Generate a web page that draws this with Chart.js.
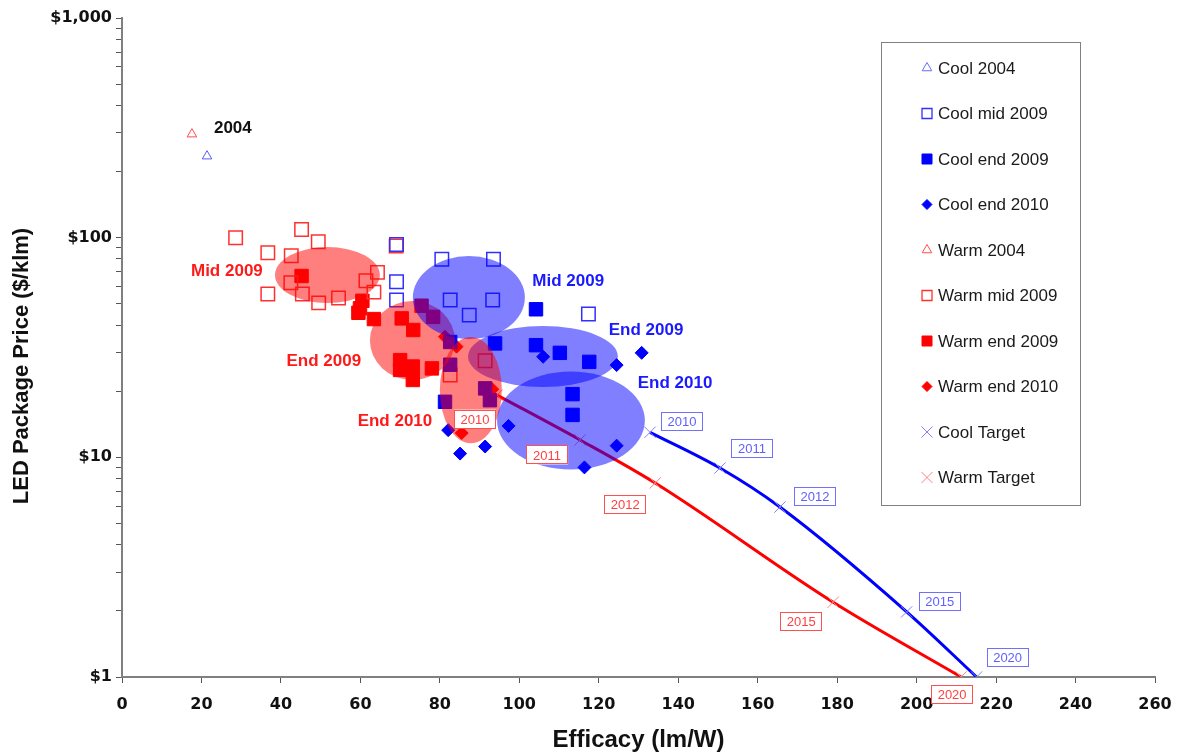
<!DOCTYPE html>
<html>
<head>
<meta charset="utf-8">
<script src="https://cdn.jsdelivr.net/npm/chart.js@4.4.1/dist/chart.umd.min.js"></script>
<style>
  body { margin: 0; background: #fff; }
  #wrap { width: 1177px; height: 755px; }
</style>
</head>
<body>
<div id="wrap"><canvas id="myChart" width="1177" height="755"></canvas></div>
<script>
// efficacy (lm/W), price ($/klm) pairs
var cool2004 = [[21.4, 235]];
var warm2004 = [[17.6, 296]];
var coolMid2009 = [[80.5, 79.7], [93.5, 79.7], [82.6, 52], [93.3, 52], [87.4, 44.4], [117.4, 44.9],
    [69.1, 63], [69.1, 52], [69.1, 93]];
var coolEnd2009 = [[104.2, 47.2], [104.2, 32.4], [110.2, 29.9], [117.6, 27.2], [93.9, 33.0], [82.6, 26.4],
    [91.4, 20.6], [81.3, 17.9], [92.6, 18.2], [113.4, 19.4], [113.4, 15.6], [82.6, 33.5]];
var coolEnd2010 = [[106, 28.7], [124.5, 26.3], [130.8, 29.9], [97.3, 13.9], [82.1, 13.3], [91.4, 11.2],
    [85.1, 10.4], [116.4, 9.0], [124.5, 11.3]];
var warmMid2009 = [[28.6, 100], [45.2, 109], [49.4, 95.8], [36.7, 85.4], [42.6, 82.7], [42.5, 62.3],
    [45.4, 55.4], [36.7, 55.4], [49.5, 50.5], [54.5, 53.1], [61.4, 63.7], [64.3, 69.5], [63.4, 56.5],
    [69.0, 91.6], [82.6, 23.7], [91.4, 27.5]];
var warmEnd2009 = [[45.2, 66.9], [60.5, 51.6], [59.5, 45.5], [63.4, 42.6], [70.4, 42.9], [73.3, 38],
    [59.9, 47.7], [75.4, 49], [78.3, 43.6], [70, 27.7], [73.2, 25.9], [73.2, 22.5], [78, 25.4], [70, 25.0]];
var warmEnd2010 = [[93.2, 20.4], [81.3, 35.4], [84.2, 31.9], [85.5, 12.9]];

var targetYears = ['2010', '2011', '2012', '2015', '2020'];
var coolTargetEff = [132.9, 150.5, 165.6, 197.5, 215.1];
var coolTargetPrice = [13.0, 8.94, 5.94, 1.98, 1.0];
var warmTargetEff = [94.4, 115.3, 134.2, 179, 211.2];
var warmTargetPrice = [19.2, 12.0, 7.64, 2.19, 1.0];

// clusters: efficacy range and price range of each shaded ellipse
var clusterNames = ['Warm mid 2009', 'Warm end 2009', 'Cool mid 2009', 'Cool end 2009', 'Warm end 2010', 'Cool end 2010'];
var clusterEff = [[38.5, 64.9], [62.4, 83.8], [73.2, 101.4], [87.1, 124.8], [80, 95.6], [94.4, 131.6]];
var clusterPrice = [[50.4, 90.6], [22.5, 51.5], [34.5, 82.5], [20.9, 39.6], [11.6, 35.3], [8.8, 24.6]];
var clusterWarm = [true, true, false, false, true, false];

// text notes in the plot
var noteText = ['2004', 'Mid 2009', 'End 2009', 'End 2010', 'Mid 2009', 'End 2009', 'End 2010'];
var noteEff = [27.9, 26.4, 50.8, 68.7, 112.3, 131.9, 139.2];
var notePrice = [315, 70.5, 27.4, 14.6, 63.5, 38, 21.8];
var noteKind = ['black', 'red', 'red', 'red', 'blue', 'blue', 'blue'];

var yTicks = [1, 2, 3, 4, 5, 6, 7, 8, 9, 10, 20, 30, 40, 50, 60, 70, 80, 90, 100, 200, 300, 400, 500, 600, 700, 800, 900, 1000];

function pts(list) {
    return list.map(function (p) { return { x: p[0], y: p[1] }; });
}
function zipPts(xs, ys) {
    return xs.map(function (v, i) { return { x: v, y: ys[i] }; });
}

var FONT = "'Liberation Sans', Arial, sans-serif";
var TICKFONT = "'DejaVu Sans', 'Liberation Sans', sans-serif";
var BLUE = '#0000ff', RED = '#ff0000';

// label box offsets from the target marker (px)
var coolLabelOff = [[32, -11], [32, -20], [35, -11], [33, -10], [31, -20]];
var warmLabelOff = [[-22, 24], [-33, 15], [-30, 21], [-32, 19], [-9, 17]];

var ellipsePlugin = {
    id: 'ellipses',
    afterDatasetsDraw: function (chart) {
        var ctx = chart.ctx, xs = chart.scales.x, ys = chart.scales.y, area = chart.chartArea;
        ctx.save();
        ctx.beginPath();
        ctx.rect(area.left, area.top, area.right - area.left, area.bottom - area.top);
        ctx.clip();
        clusterNames.forEach(function (name, i) {
            var x1 = xs.getPixelForValue(clusterEff[i][0]);
            var x2 = xs.getPixelForValue(clusterEff[i][1]);
            var y1 = ys.getPixelForValue(clusterPrice[i][1]);
            var y2 = ys.getPixelForValue(clusterPrice[i][0]);
            ctx.beginPath();
            ctx.ellipse((x1 + x2) / 2, (y1 + y2) / 2, (x2 - x1) / 2, (y2 - y1) / 2, 0, 0, Math.PI * 2);
            ctx.fillStyle = clusterWarm[i] ? 'rgba(255,0,0,0.5)' : 'rgba(0,0,255,0.5)';
            ctx.fill();
        });
        ctx.restore();
    }
};

function drawMarker(ctx, style, x, y, r, stroke, fill, lw) {
    ctx.save();
    ctx.strokeStyle = stroke;
    ctx.fillStyle = fill;
    ctx.lineWidth = lw;
    ctx.beginPath();
    if (style === 'triangle') {
        ctx.moveTo(x, y - r);
        ctx.lineTo(x + r * 0.87, y + r * 0.5);
        ctx.lineTo(x - r * 0.87, y + r * 0.5);
        ctx.closePath();
    } else if (style === 'rect') {
        ctx.rect(x - r, y - r, 2 * r, 2 * r);
    } else if (style === 'rectRot') {
        ctx.moveTo(x, y - r); ctx.lineTo(x + r, y); ctx.lineTo(x, y + r); ctx.lineTo(x - r, y);
        ctx.closePath();
    } else if (style === 'crossRot') {
        ctx.moveTo(x - r, y - r); ctx.lineTo(x + r, y + r);
        ctx.moveTo(x + r, y - r); ctx.lineTo(x - r, y + r);
    }
    if (fill !== 'none' && style !== 'crossRot') ctx.fill();
    ctx.stroke();
    ctx.restore();
}

var notesPlugin = {
    id: 'notes',
    afterDraw: function (chart) {
        var ctx = chart.ctx, xs = chart.scales.x, ys = chart.scales.y;
        ctx.save();
        ctx.textAlign = 'center';
        ctx.textBaseline = 'middle';
        ctx.font = 'bold 17px ' + FONT;
        noteText.forEach(function (t, i) {
            ctx.fillStyle = noteKind[i] === 'red' ? '#ff1a1a' : (noteKind[i] === 'blue' ? '#1a1aff' : '#111');
            ctx.fillText(t, xs.getPixelForValue(noteEff[i]), ys.getPixelForValue(notePrice[i]));
        });

        // year boxes on the target curves
        ctx.font = '13px ' + FONT;
        function box(label, px, py, color, textColor) {
            var w = 42, h = 19;
            ctx.fillStyle = '#fff';
            ctx.fillRect(px - w / 2, py - h / 2, w, h);
            ctx.strokeStyle = color;
            ctx.lineWidth = 1;
            ctx.strokeRect(Math.round(px - w / 2) + 0.5, Math.round(py - h / 2) + 0.5, w - 1, h - 1);
            ctx.fillStyle = textColor;
            ctx.fillText(label, px, py + 1);
        }
        targetYears.forEach(function (yr, i) {
            box(yr, xs.getPixelForValue(coolTargetEff[i]) + coolLabelOff[i][0],
                ys.getPixelForValue(coolTargetPrice[i]) + coolLabelOff[i][1], '#7070ff', '#6060ff');
            box(yr, xs.getPixelForValue(warmTargetEff[i]) + warmLabelOff[i][0],
                ys.getPixelForValue(warmTargetPrice[i]) + warmLabelOff[i][1], '#ff5050', '#ff4040');
        });

        // y axis title
        ctx.save();
        ctx.translate(22, 366);
        ctx.rotate(-Math.PI / 2);
        ctx.font = 'bold 22px ' + FONT;
        ctx.fillStyle = '#111';
        ctx.fillText('LED Package Price ($/klm)', 0, 0);
        ctx.restore();

        // legend box
        var lx = 881, ly = 42, lw = 199, lh = 463;
        ctx.fillStyle = '#fff';
        ctx.fillRect(lx, ly, lw, lh);
        ctx.strokeStyle = '#808080';
        ctx.lineWidth = 1;
        ctx.strokeRect(lx + 0.5, ly + 0.5, lw, lh);
        ctx.textAlign = 'left';
        ctx.font = '17px ' + FONT;
        chart.data.datasets.forEach(function (ds, i) {
            var yy = 68 + i * 45.5;
            var lm = ds.legendMarker;
            drawMarker(ctx, lm.style, 927, yy, lm.r, lm.stroke, lm.fill, lm.lw);
            ctx.fillStyle = '#1a1a1a';
            ctx.fillText(ds.label, 938, yy + 1);
        });
        ctx.restore();
    }
};

var ctx = document.getElementById('myChart').getContext('2d');

var myChart = new Chart(ctx, {
    type: 'scatter',
    data: {
        datasets: [{
            label: 'Cool 2004',
            data: pts(cool2004),
            pointStyle: 'triangle', pointRadius: 5.5, borderWidth: 1,
            borderColor: '#5a5aff', backgroundColor: 'rgba(0,0,0,0)',
            legendMarker: { style: 'triangle', r: 5.5, stroke: '#6a6aff', fill: 'none', lw: 1 }
        }, {
            label: 'Cool mid 2009',
            data: pts(coolMid2009),
            pointStyle: 'rect', pointRadius: 9.5, borderWidth: 1.5,
            borderColor: '#3030ff', backgroundColor: 'rgba(0,0,0,0)',
            legendMarker: { style: 'rect', r: 5, stroke: '#3030ff', fill: 'none', lw: 1.3 }
        }, {
            label: 'Cool end 2009',
            data: pts(coolEnd2009),
            pointStyle: 'rect', pointRadius: 9.5, borderWidth: 1,
            borderColor: BLUE, backgroundColor: BLUE,
            legendMarker: { style: 'rect', r: 5, stroke: BLUE, fill: BLUE, lw: 1 }
        }, {
            label: 'Cool end 2010',
            data: pts(coolEnd2010),
            pointStyle: 'rectRot', pointRadius: 6.5, borderWidth: 1,
            borderColor: BLUE, backgroundColor: BLUE,
            legendMarker: { style: 'rectRot', r: 5, stroke: BLUE, fill: BLUE, lw: 1 }
        }, {
            label: 'Warm 2004',
            data: pts(warm2004),
            pointStyle: 'triangle', pointRadius: 5.5, borderWidth: 1,
            borderColor: '#ff4a4a', backgroundColor: 'rgba(0,0,0,0)',
            legendMarker: { style: 'triangle', r: 5.5, stroke: '#ff5050', fill: 'none', lw: 1 }
        }, {
            label: 'Warm mid 2009',
            data: pts(warmMid2009),
            pointStyle: 'rect', pointRadius: 9.5, borderWidth: 1.5,
            borderColor: '#ff3030', backgroundColor: 'rgba(0,0,0,0)',
            legendMarker: { style: 'rect', r: 5, stroke: '#ff3030', fill: 'none', lw: 1.3 }
        }, {
            label: 'Warm end 2009',
            data: pts(warmEnd2009),
            pointStyle: 'rect', pointRadius: 9.5, borderWidth: 1,
            borderColor: RED, backgroundColor: RED,
            legendMarker: { style: 'rect', r: 5, stroke: RED, fill: RED, lw: 1 }
        }, {
            label: 'Warm end 2010',
            data: pts(warmEnd2010),
            pointStyle: 'rectRot', pointRadius: 6.5, borderWidth: 1,
            borderColor: RED, backgroundColor: RED,
            legendMarker: { style: 'rectRot', r: 5, stroke: RED, fill: RED, lw: 1 }
        }, {
            label: 'Cool Target',
            data: zipPts(coolTargetEff, coolTargetPrice),
            showLine: true, cubicInterpolationMode: 'monotone',
            borderColor: BLUE, borderWidth: 3,
            pointStyle: 'crossRot', pointRadius: 8, pointBorderWidth: 1,
            pointBorderColor: '#8080ff', pointBackgroundColor: '#8080ff',
            legendMarker: { style: 'crossRot', r: 5.5, stroke: '#8080ff', fill: 'none', lw: 1 }
        }, {
            label: 'Warm Target',
            data: zipPts(warmTargetEff, warmTargetPrice),
            showLine: true, cubicInterpolationMode: 'monotone',
            borderColor: RED, borderWidth: 3,
            pointStyle: 'crossRot', pointRadius: 8, pointBorderWidth: 1,
            pointBorderColor: '#ff8080', pointBackgroundColor: '#ff8080',
            legendMarker: { style: 'crossRot', r: 5.5, stroke: '#ff8080', fill: 'none', lw: 1 }
        }]
    },
    options: {
        responsive: false,
        animation: false,
        devicePixelRatio: 1,
        layout: { padding: { top: 18, right: 22, left: 0, bottom: 0 } },
        plugins: {
            legend: { display: false },
            tooltip: { enabled: false }
        },
        scales: {
            x: {
                type: 'linear',
                min: 0, max: 260,
                afterFit: function (scale) { scale.height = 78; scale.paddingRight = 0; },
                border: { color: '#808080', width: 2 },
                grid: { drawOnChartArea: false, drawTicks: true, tickLength: 6, color: '#555' },
                ticks: {
                    stepSize: 20, padding: 12, color: '#111',
                    font: { family: TICKFONT, size: 16, weight: 'bold' }
                },
                title: {
                    display: true, text: 'Efficacy (lm/W)', color: '#111',
                    font: { family: FONT, size: 24, weight: 'bold' }, padding: { top: 0, bottom: 0 }
                }
            },
            y: {
                type: 'logarithmic',
                min: 1, max: 1000,
                afterFit: function (scale) { scale.width = 122; },
                afterBuildTicks: function (scale) {
                    scale.ticks = yTicks.map(function (v) { return { value: v, major: false }; });
                },
                border: { color: '#808080', width: 2 },
                grid: { drawOnChartArea: false, drawTicks: true, tickLength: 6, color: '#555' },
                ticks: {
                    autoSkip: false, padding: 4, color: '#111',
                    font: { family: TICKFONT, size: 16, weight: 'bold' },
                    callback: function (value) {
                        var l = Math.log10(value);
                        if (Math.abs(l - Math.round(l)) < 1e-9) return '$' + value.toLocaleString('en-US');
                        return '';
                    }
                },
                title: { display: false }
            }
        }
    },
    plugins: [ellipsePlugin, notesPlugin]
});
</script>
</body>
</html>
